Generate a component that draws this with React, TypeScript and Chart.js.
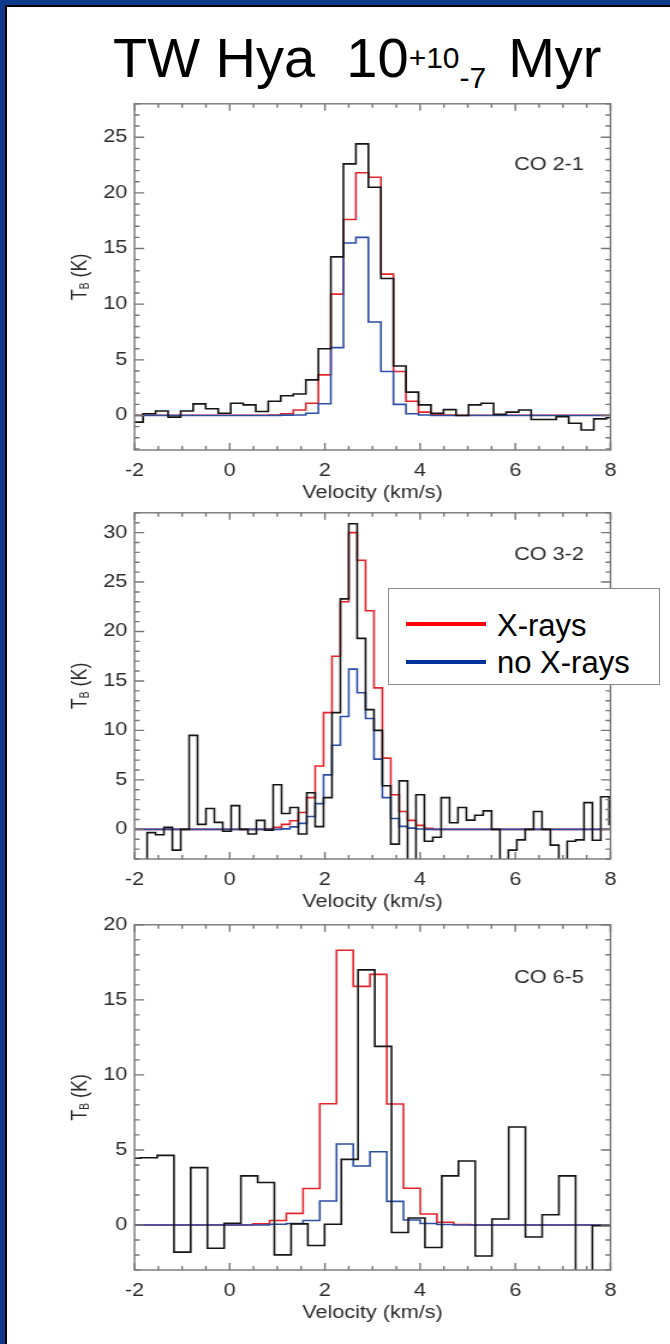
import React, { useEffect, useRef } from "react";
import { Chart, registerables } from "chart.js";

Chart.register(...registerables);

// ------------------------------------------------------------------
// DATA
// ------------------------------------------------------------------
const X_MIN = -2;
const X_MAX = 8;
const X_TICKS = [-2, 0, 2, 4, 6, 8];
const X_MINOR_STEP = 0.5;
const Y_MINOR_STEP = 1;
const X_TITLE = "Velocity (km/s)";
const LEGEND_LABELS = ["X-rays", "no X-rays"];
const TITLE_MAIN = "TW Hya\u00a0\u00a010";
const TITLE_SUP = "+10";
const TITLE_SUB = "-7";
const TITLE_END = "Myr";

// CO 2-1  (channel centres: V0 + i*DV, km/s ; values in K)
const CO21_LABEL = "CO 2-1";
const CO21_V0 = -2.2145;
const CO21_DV = 0.263;
const CO21_Y_MIN = -3.1;
const CO21_Y_MAX = 28;
const CO21_Y_TICKS = [0, 5, 10, 15, 20, 25];
const CO21_OBS = [
  -0.6, -0.6, 0.15, 0.4, -0.15, 0.4, 1.04, 0.6, 0.2, 1.1, 0.95, 0.36, 1.28, 1.78,
  1.93, 3.2, 6.0, 14.25, 22.6, 24.4, 20.5, 12.3, 4.45, 2.1, 0.95, 0.2, 0.53, 0.0,
  0.95, 1.1, 0.1, 0.3, 0.5, -0.36, -0.36, -0.1, -0.7, -1.3, -0.3, -0.2, -0.2,
];
const CO21_XRAYS = [
  0.02, 0.02, 0.02, 0.02, 0.02, 0.02, 0.02, 0.02, 0.02, 0.02, 0.02, 0.02,
  0.05, 0.15, 0.5, 1.1, 3.65, 10.9, 17.6, 21.8, 21.4, 12.7, 3.95, 1.28, 0.3, 0.1, 0.05,
  0.02, 0.02, 0.02, 0.02, 0.02, 0.02, 0.02, 0.02, 0.02, 0.02, 0.02, 0.02, 0.02, 0.02,
];
const CO21_NO_XRAYS = [
  0, 0, 0, 0, 0, 0, 0, 0, 0, 0, 0, 0, 0,
  0.03, 0.05, 0.2, 1.05, 6.1, 15.5, 16.0, 8.4, 3.95, 1.0, 0.15, 0.04,
  0, 0, 0, 0, 0, 0, 0, 0, 0, 0, 0, 0, 0, 0, 0, 0,
];

// CO 3-2
const CO32_LABEL = "CO 3-2";
const CO32_V0 = -2.176;
const CO32_DV = 0.1765;
const CO32_Y_MIN = -3;
const CO32_Y_MAX = 32;
const CO32_Y_TICKS = [0, 5, 10, 15, 20, 25, 30];
const CO32_OBS = [
  -3.5, -3.5, -3.5, -0.33, -0.55, 0.2, -2.1, 0.0, 9.5, 0.5, 2.1, 0.7, -0.2, 2.4,
  0.0, -0.47, 0.9, -0.1, 4.5, 1.6, 2.2, -0.47, 3.7, 0.27, 3.2, 11.8, 23.3, 30.9,
  19.3, 12.1, 10.0, 4.4, -1.5, 4.9, -3.5, 3.5, -1.2, -0.8, 3.2, 0.67, 2.2, 0.93,
  1.43, 1.87, 0.0, -3.5, -2.1, -1.07, 0.0, 1.8, 0.0, -1.6, -3.5, -1.2, -1.07, 2.7,
  -1.1, 3.3, 0.5,
];
const CO32_XRAYS = [
  0, 0, 0, 0, 0, 0, 0, 0, 0, 0, 0, 0, 0, 0, 0, 0, 0, 0.05,
  0.2, 0.5, 0.87, 1.7, 3.2, 6.4, 11.8, 17.5, 23.0, 30.0, 27.2, 22.1, 14.3, 7.2, 3.5,
  1.8, 0.9, 0.4, 0.1,
  0, 0, 0, 0, 0, 0, 0, 0, 0, 0, 0, 0, 0, 0, 0, 0, 0, 0, 0, 0, 0, 0,
];
const CO32_NO_XRAYS = [
  0, 0, 0, 0, 0, 0, 0, 0, 0, 0, 0, 0, 0, 0, 0, 0, 0, 0, 0,
  0.05, 0.25, 0.6, 1.3, 2.6, 5.5, 8.5, 11.4, 16.2, 13.8, 11.2, 7.1, 3.2, 1.1, 0.3,
  0.12, 0.04,
  0, 0, 0, 0, 0, 0, 0, 0, 0, 0, 0, 0, 0, 0, 0, 0, 0, 0, 0, 0, 0, 0, 0,
];

// CO 6-5
const CO65_LABEL = "CO 6-5";
const CO65_OBS_V0 = -2.0502;
const CO65_MOD_V0 = -2.151;
const CO65_DV = 0.3516;
const CO65_Y_MIN = -3;
const CO65_Y_MAX = 20;
const CO65_Y_TICKS = [0, 5, 10, 15, 20];
const CO65_OBS = [
  4.45, 4.48, 4.64, -1.81, 3.82, -1.55, 0.11, 3.27, 2.83, -1.99, 0.07, -1.37, 0.05,
  4.37, 17.0, 11.9, -0.5, 0.46, -1.5, 3.27, 4.26, -2.07, 0.4, 6.53, -0.8, 0.68,
  3.27, -4.0, -0.05, -0.05,
];
const CO65_XRAYS = [
  0, 0, 0, 0, 0, 0, 0, 0,
  0.07, 0.3, 0.77, 2.43, 8.08, 18.3, 15.9, 16.7, 8.06, 2.45, 0.73, 0.18, 0.03,
  0, 0, 0, 0, 0, 0, 0, 0, 0,
];
const CO65_NO_XRAYS = [
  0, 0, 0, 0, 0, 0, 0, 0, 0,
  0.05, 0.1, 0.3, 1.6, 5.4, 3.93, 4.88, 1.57, 0.33, 0.1, 0.03,
  0, 0, 0, 0, 0, 0, 0, 0, 0, 0,
];

// ------------------------------------------------------------------
// STYLE / LAYOUT
// ------------------------------------------------------------------
const FONT = "'Liberation Sans', Arial, Helvetica, sans-serif";
const TEXT_COLOR = "#2b2b2b";
const FRAME_COLOR = "#767676";
const OBS_COLOR = "#141414";
const XRAY_COLOR = "#e3242b";
const NOXRAY_COLOR = "#2d4fa3";
const BORDER_BLUE = "#0f3a8c";

const CANVAS_W = 558;
const STRETCH = 670 / CANVAS_W;
const PLOT_LEFT = 134.5 / STRETCH;
const PLOT_RIGHT_PAD = CANVAS_W - 610.5 / STRETCH;
const PAD_TOP = 14;
const X_AXIS_H = 58;
const X_MAJOR_LEN = 7;
const X_MINOR_LEN = 4;
const Y_MAJOR_LEN = 8;
const Y_MINOR_LEN = 4.2;
const Y_TITLE_X = 79 / STRETCH;
const LABEL_RIGHT = 584 / STRETCH;
const TICK_FONT_SIZE = 18;

Chart.defaults.font.family = FONT;

type PanelCfg = {
  label: string;
  labelDy: number;
  top: number;
  plotH: number;
  yMin: number;
  yMax: number;
  yTicks: number[];
  obsV0: number;
  obsDv: number;
  obs: number[];
  modV0: number;
  modDv: number;
  xrays: number[];
  noXrays: number[];
};

const PANELS: PanelCfg[] = [
  {
    label: CO21_LABEL, labelDy: 61, top: 101, plotH: 349,
    yMin: CO21_Y_MIN, yMax: CO21_Y_MAX, yTicks: CO21_Y_TICKS,
    obsV0: CO21_V0, obsDv: CO21_DV, obs: CO21_OBS,
    modV0: CO21_V0, modDv: CO21_DV, xrays: CO21_XRAYS, noXrays: CO21_NO_XRAYS,
  },
  {
    label: CO32_LABEL, labelDy: 42, top: 510, plotH: 349,
    yMin: CO32_Y_MIN, yMax: CO32_Y_MAX, yTicks: CO32_Y_TICKS,
    obsV0: CO32_V0, obsDv: CO32_DV, obs: CO32_OBS,
    modV0: CO32_V0, modDv: CO32_DV, xrays: CO32_XRAYS, noXrays: CO32_NO_XRAYS,
  },
  {
    label: CO65_LABEL, labelDy: 53, top: 922, plotH: 348,
    yMin: CO65_Y_MIN, yMax: CO65_Y_MAX, yTicks: CO65_Y_TICKS,
    obsV0: CO65_OBS_V0, obsDv: CO65_DV, obs: CO65_OBS,
    modV0: CO65_MOD_V0, modDv: CO65_DV, xrays: CO65_XRAYS, noXrays: CO65_NO_XRAYS,
  },
];

const channels = (v0: number, dv: number, vals: number[]) =>
  vals.map((y, i) => ({ x: v0 + i * dv, y }));

const frameTicksPlugin = {
  id: "frameTicks",
  afterDraw(chart: any, _args: any, opts: any) {
    const { ctx, chartArea } = chart;
    const { left, right, top, bottom } = chartArea;
    const xs = chart.scales.x;
    const ys = chart.scales.y;
    const xMajor = xs.ticks.map((t: any) => t.value);
    const yMajor = ys.ticks.map((t: any) => t.value);
    const isMajor = (arr: number[], v: number) => arr.some((t) => Math.abs(t - v) < 1e-6);

    ctx.save();
    ctx.strokeStyle = FRAME_COLOR;
    ctx.lineWidth = 1.4;
    ctx.beginPath();
    const xs0 = Math.ceil(xs.min / X_MINOR_STEP - 1e-9) * X_MINOR_STEP;
    for (let v = xs0; v <= xs.max + 1e-9; v += X_MINOR_STEP) {
      const px = xs.getPixelForValue(v);
      const len = isMajor(xMajor, v) ? X_MAJOR_LEN : X_MINOR_LEN;
      ctx.moveTo(px, bottom);
      ctx.lineTo(px, bottom - len);
      ctx.moveTo(px, top);
      ctx.lineTo(px, top + len);
    }
    const ys0 = Math.ceil(ys.min / Y_MINOR_STEP - 1e-9) * Y_MINOR_STEP;
    for (let v = ys0; v <= ys.max + 1e-9; v += Y_MINOR_STEP) {
      const py = ys.getPixelForValue(v);
      const len = isMajor(yMajor, v) ? Y_MAJOR_LEN : Y_MINOR_LEN;
      ctx.moveTo(left, py);
      ctx.lineTo(left + len, py);
      ctx.moveTo(right, py);
      ctx.lineTo(right - len, py);
    }
    ctx.stroke();
    ctx.strokeRect(left, top, right - left, bottom - top);

    // line label
    ctx.fillStyle = TEXT_COLOR;
    ctx.font = `18px ${FONT}`;
    ctx.textAlign = "right";
    ctx.textBaseline = "middle";
    ctx.fillText(opts.label, LABEL_RIGHT, top + opts.labelDy);

    // y-axis title: T_B (K)
    ctx.save();
    ctx.translate(Y_TITLE_X, (top + bottom) / 2);
    ctx.rotate(-Math.PI / 2);
    ctx.textAlign = "left";
    ctx.textBaseline = "alphabetic";
    const big = `18px ${FONT}`;
    const small = `10px ${FONT}`;
    ctx.font = big;
    const wT = ctx.measureText("T").width;
    const wK = ctx.measureText(" (K)").width;
    ctx.font = small;
    const wB = ctx.measureText("B").width;
    let x0 = -(wT + wB + wK) / 2;
    const base = 6.5;
    ctx.font = big;
    ctx.fillText("T", x0, base);
    x0 += wT;
    ctx.font = small;
    ctx.fillText("B", x0, base + 2);
    x0 += wB;
    ctx.font = big;
    ctx.fillText(" (K)", x0, base);
    ctx.restore();

    ctx.restore();
  },
};

function buildConfig(p: PanelCfg): any {
  const lineDs = (data: any[], color: string) => ({
    data,
    borderColor: color,
    borderWidth: 1.6,
    stepped: "middle",
    pointRadius: 0,
    fill: false,
    tension: 0,
  });
  const tickFont = { family: FONT, size: TICK_FONT_SIZE };
  return {
    type: "line",
    data: {
      datasets: [
        lineDs(channels(p.obsV0, p.obsDv, p.obs), OBS_COLOR),
        lineDs(channels(p.modV0, p.modDv, p.noXrays), NOXRAY_COLOR),
        lineDs(channels(p.modV0, p.modDv, p.xrays), XRAY_COLOR),
      ],
    },
    options: {
      animation: false,
      responsive: false,
      devicePixelRatio: 1,
      events: [],
      layout: { padding: { top: PAD_TOP, right: PLOT_RIGHT_PAD, left: 0, bottom: 0 } },
      plugins: {
        legend: { display: false },
        tooltip: { enabled: false },
        frameTicks: { label: p.label, labelDy: p.labelDy },
      },
      scales: {
        x: {
          type: "linear",
          min: X_MIN,
          max: X_MAX,
          afterBuildTicks: (s: any) => {
            s.ticks = X_TICKS.map((v) => ({ value: v }));
          },
          afterFit: (s: any) => {
            s.height = X_AXIS_H;
          },
          grid: { display: false, drawTicks: false },
          border: { display: false },
          ticks: { font: tickFont, color: TEXT_COLOR, padding: 10.7, maxRotation: 0, autoSkip: false },
          title: {
            display: true,
            text: X_TITLE,
            font: tickFont,
            color: TEXT_COLOR,
            padding: { top: 0, bottom: 4.2 },
          },
        },
        y: {
          type: "linear",
          min: p.yMin,
          max: p.yMax,
          afterBuildTicks: (s: any) => {
            s.ticks = p.yTicks.map((v) => ({ value: v }));
          },
          afterFit: (s: any) => {
            s.width = PLOT_LEFT;
          },
          grid: { display: false, drawTicks: false },
          border: { display: false },
          ticks: { font: tickFont, color: TEXT_COLOR, padding: 6, autoSkip: false },
        },
      },
    },
    plugins: [frameTicksPlugin],
  };
}

function SpectrumPanel({ cfg }: { cfg: PanelCfg }) {
  const ref = useRef<HTMLCanvasElement | null>(null);
  const canvasTop = cfg.top - PAD_TOP;
  const canvasH = cfg.plotH + PAD_TOP + X_AXIS_H;
  useEffect(() => {
    if (!ref.current) return;
    const chart = new Chart(ref.current, buildConfig(cfg));
    return () => chart.destroy();
  }, [cfg]);
  return (
    <div
      style={{
        position: "absolute",
        left: 0,
        top: canvasTop,
        width: CANVAS_W,
        height: canvasH,
        transform: `scaleX(${STRETCH})`,
        transformOrigin: "0 0",
      }}
    >
      <canvas ref={ref} width={CANVAS_W} height={canvasH} style={{ display: "block" }} />
    </div>
  );
}

const legendText: React.CSSProperties = {
  position: "absolute",
  left: 497,
  fontFamily: FONT,
  fontSize: 31,
  lineHeight: "31px",
  whiteSpace: "nowrap",
  color: "#000",
};

export default function App() {
  return (
    <div
      style={{
        position: "absolute",
        left: 0,
        top: 0,
        width: 670,
        height: 1344,
        background: "#fff",
        overflow: "hidden",
      }}
    >
      {/* frame border (top / left) */}
      <div style={{ position: "absolute", left: 0, top: 0, width: 670, height: 5, background: BORDER_BLUE }} />
      <div style={{ position: "absolute", left: 5, top: 5, width: 665, height: 2, background: "#000" }} />
      <div style={{ position: "absolute", left: 0, top: 0, width: 5, height: 1344, background: BORDER_BLUE }} />
      <div style={{ position: "absolute", left: 5, top: 5, width: 2, height: 1339, background: "#000" }} />

      {/* title */}
      <div
        style={{
          position: "absolute",
          left: 113,
          top: 26,
          fontFamily: FONT,
          fontSize: 56,
          lineHeight: "64px",
          whiteSpace: "nowrap",
          color: "#000",
        }}
      >
        {TITLE_MAIN}
        <span style={{ fontSize: 30, position: "relative", top: -9 }}>{TITLE_SUP}</span>
        <span style={{ fontSize: 30, position: "relative", top: 11 }}>{TITLE_SUB}</span>
        <span style={{ marginLeft: 22 }}>{TITLE_END}</span>
      </div>

      {PANELS.map((p) => (
        <SpectrumPanel key={p.label} cfg={p} />
      ))}

      {/* legend */}
      <div
        style={{
          position: "absolute",
          left: 388,
          top: 588,
          width: 272,
          height: 97,
          boxSizing: "border-box",
          border: "1.5px solid #8a8a8a",
          background: "#fff",
        }}
      />
      <div style={{ position: "absolute", left: 406, top: 622, width: 80, height: 4, background: "#ff0000" }} />
      <div style={{ position: "absolute", left: 406, top: 660, width: 80, height: 4, background: "#003399" }} />
      <div style={{ ...legendText, top: 610 }}>{LEGEND_LABELS[0]}</div>
      <div style={{ ...legendText, top: 647 }}>{LEGEND_LABELS[1]}</div>
    </div>
  );
}
